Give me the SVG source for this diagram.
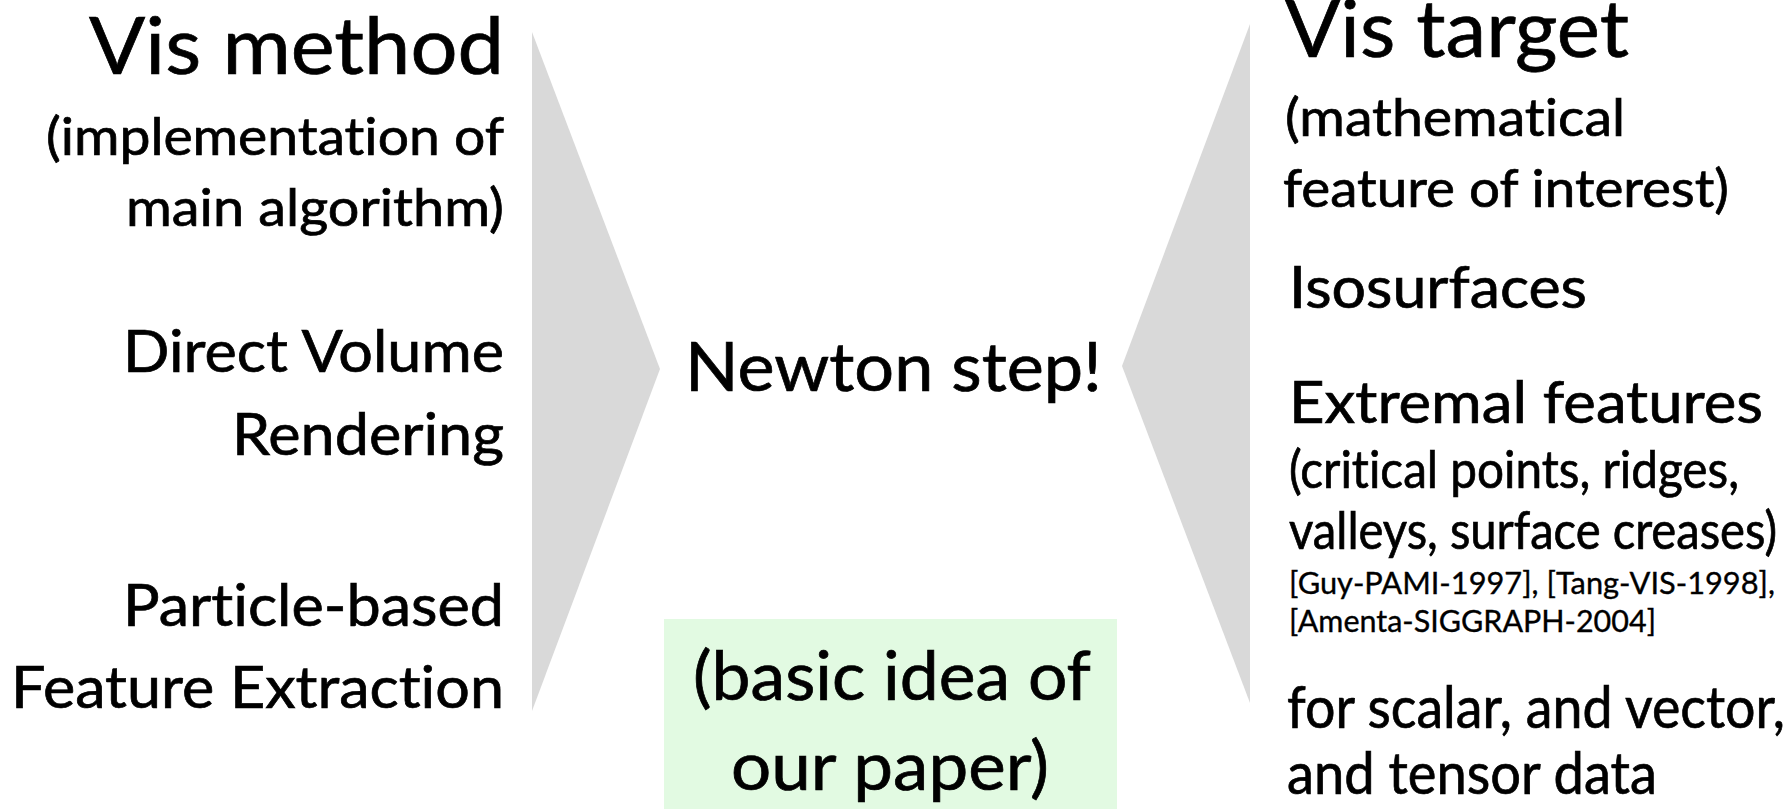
<svg xmlns="http://www.w3.org/2000/svg" width="1792" height="809" viewBox="0 0 1792 809">
  <style>
    text { font-family: "Lato", "Open Sans", "Liberation Sans", sans-serif; fill: #000; stroke: #000; stroke-width: 0.7px; font-variant-ligatures: none; font-feature-settings: "liga" 0, "clig" 0; }
    .title { font-size: 79px; }
    .sub { font-size: 52px; }
    .item { font-size: 58.5px; }
    .cite { font-size: 30.5px; stroke-width: 0.35px; }
    .mid { font-size: 67px; }
    .wedge { fill: #d9d9d9; }
  </style>
  <rect width="1792" height="809" fill="#ffffff"/>

  <!-- wedges pointing toward the central idea -->
  <g id="connectors">
    <polygon class="wedge" points="532,32 660,369 532,711"/>
    <polygon class="wedge" points="1250,24 1122,366 1250,703"/>
  </g>

  <!-- left column: visualization methods -->
  <g id="vis-method">
    <text class="title" x="89" y="74" textLength="415" lengthAdjust="spacingAndGlyphs">Vis method</text>
    <text class="sub" x="46" y="155" textLength="458" lengthAdjust="spacingAndGlyphs">(implementation of</text>
    <text class="sub" x="126" y="226" textLength="378" lengthAdjust="spacingAndGlyphs">main algorithm)</text>
  </g>
  <g id="dvr">
    <text class="item" x="123" y="372" textLength="381" lengthAdjust="spacingAndGlyphs">Direct Volume</text>
    <text class="item" x="232" y="455" textLength="272" lengthAdjust="spacingAndGlyphs">Rendering</text>
  </g>
  <g id="particles">
    <text class="item" x="123" y="626" textLength="381" lengthAdjust="spacingAndGlyphs">Particle-based</text>
    <text class="item" x="11" y="708" textLength="493" lengthAdjust="spacingAndGlyphs">Feature Extraction</text>
  </g>

  <!-- centre -->
  <g id="newton">
    <text class="mid" x="685" y="391" textLength="417" lengthAdjust="spacingAndGlyphs">Newton step!</text>
  </g>
  <g id="basic-idea">
    <rect x="664" y="619" width="453" height="190" fill="#e2fae2"/>
    <text class="mid" x="693" y="700" textLength="398" lengthAdjust="spacingAndGlyphs">(basic idea of</text>
    <text class="mid" x="731" y="790" textLength="318" lengthAdjust="spacingAndGlyphs">our paper)</text>
  </g>

  <!-- right column: visualization targets -->
  <g id="vis-target">
    <text class="title" x="1285" y="57" textLength="344" lengthAdjust="spacingAndGlyphs">Vis target</text>
    <text class="sub" x="1285" y="136" textLength="340" lengthAdjust="spacingAndGlyphs">(mathematical</text>
    <text class="sub" x="1283" y="207" textLength="446" lengthAdjust="spacingAndGlyphs">feature of interest)</text>
  </g>
  <g id="isosurfaces">
    <text class="item" x="1289" y="308" textLength="298" lengthAdjust="spacingAndGlyphs">Isosurfaces</text>
  </g>
  <g id="extremal">
    <text class="item" x="1289" y="423" textLength="474" lengthAdjust="spacingAndGlyphs">Extremal features</text>
    <text class="sub" x="1289" y="488" textLength="450" lengthAdjust="spacingAndGlyphs">(critical points, ridges,</text>
    <text class="sub" x="1289" y="549" textLength="488" lengthAdjust="spacingAndGlyphs">valleys, surface creases)</text>
    <text class="cite" x="1289" y="594" textLength="486" lengthAdjust="spacingAndGlyphs">[Guy-PAMI-1997], [Tang-VIS-1998],</text>
    <text class="cite" x="1289" y="632" textLength="367" lengthAdjust="spacingAndGlyphs">[Amenta-SIGGRAPH-2004]</text>
  </g>
  <g id="data-types">
    <text class="item" x="1287" y="728" textLength="498" lengthAdjust="spacingAndGlyphs">for scalar, and vector,</text>
    <text class="item" x="1287" y="794" textLength="370" lengthAdjust="spacingAndGlyphs">and tensor data</text>
  </g>
</svg>
